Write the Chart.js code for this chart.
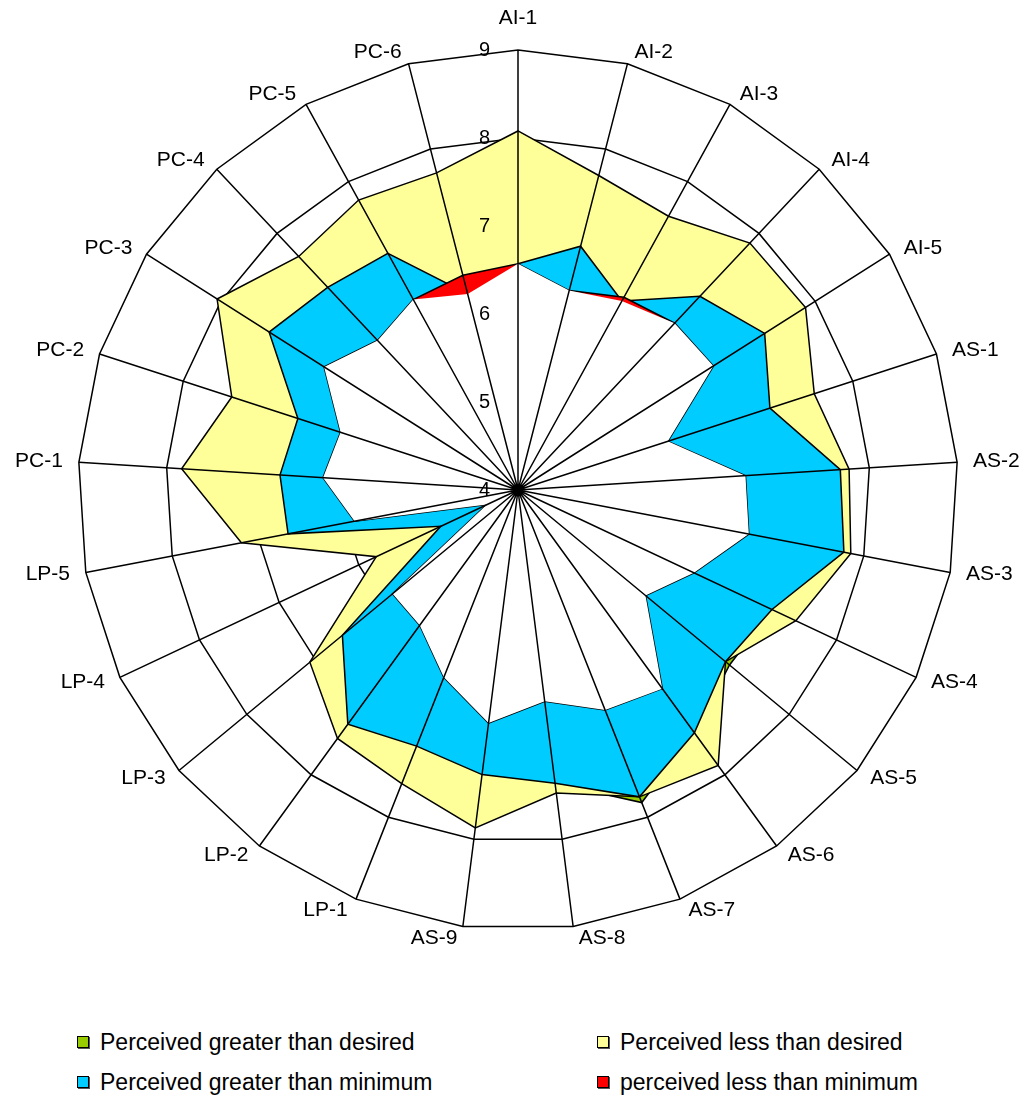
<!DOCTYPE html>
<html>
<head>
<meta charset="utf-8">
<script src="https://cdn.jsdelivr.net/npm/chart.js@4.4.0/dist/chart.umd.min.js"></script>
<style>
    body { margin: 0; background: #fff; font-family: "Liberation Sans", Arial, sans-serif; }
    #cadre { position: relative; width: 1023px; height: 1098px; }
    #myChart { position: absolute; left: 0; top: 0; }
    .leg { position: absolute; height: 26px; display: flex; align-items: center; font-size: 23px; color: #000; white-space: nowrap; }
    .leg .carre { width: 10px; height: 10px; border: 1.5px solid #000; box-shadow: 1px 1px 0 #555; margin-right: 11px; }
</style>
</head>
<body>
<div id="cadre">
    <canvas id="myChart" width="1023" height="1000"></canvas>
    <div class="leg" style="left:77px; top:1029px"><span class="carre" style="background:#99CC00"></span>Perceived greater than desired</div>
    <div class="leg" style="left:597px; top:1029px"><span class="carre" style="background:#FFFF99"></span>Perceived less than desired</div>
    <div class="leg" style="left:77px; top:1069px"><span class="carre" style="background:#00CCFF"></span>Perceived greater than minimum</div>
    <div class="leg" style="left:597px; top:1069px"><span class="carre" style="background:#FF0000"></span>perceived less than minimum</div>
</div>
<script>
// --- DONNÉES ---
const categories = ['AI-1', 'AI-2', 'AI-3', 'AI-4', 'AI-5',
    'AS-1', 'AS-2', 'AS-3', 'AS-4', 'AS-5', 'AS-6', 'AS-7', 'AS-8', 'AS-9',
    'LP-1', 'LP-2', 'LP-3', 'LP-4', 'LP-5',
    'PC-1', 'PC-2', 'PC-3', 'PC-4', 'PC-5', 'PC-6'];

const desire = [8.08, 7.69, 7.55, 7.85, 7.87, 7.54, 7.77, 7.85, 7.49, 7.06, 7.87, 7.75, 7.47,
    7.87, 7.59, 7.49, 7.07, 5.78, 7.20, 7.83, 7.42, 8.05, 7.64, 7.76, 7.72];
const percu = [6.57, 6.86, 6.45, 7.02, 7.32, 7.01, 7.67, 7.77, 7.19, 7.12, 7.41, 7.82, 7.36,
    7.26, 7.13, 7.29, 6.59, 4.97, 6.66, 6.71, 6.63, 7.35, 7.16, 7.07, 6.30];
const minimum = [6.57, 6.34, 6.50, 6.60, 6.63, 5.79, 6.59, 6.67, 6.21, 5.88, 6.79, 6.69, 6.42,
    6.67, 6.29, 5.90, 5.85, 4.39, 5.89, 6.22, 6.12, 6.61, 6.33, 6.47, 6.52];

const graduations = [4, 5, 6, 7, 8, 9];

const couleurs = { vert: '#99CC00', jaune: '#FFFF99', cyan: '#00CCFF', rouge: '#FF0000' };

// couches superposées : cyan jusqu'au plus petit de perçu/désiré, blanc jusqu'au plus petit de perçu/minimum
const coucheCyan = percu.map((v, i) => Math.min(v, desire[i]));
const coucheBlanche = percu.map((v, i) => Math.min(v, minimum[i]));

// --- RAYONS ET TEXTES PAR-DESSUS LES SURFACES ---
const surcouche = {
    id: 'surcouche',
    afterDatasetsDraw(chart) {
        const r = chart.scales.r, c = chart.ctx;
        c.save();
        c.strokeStyle = '#000';
        c.lineWidth = 1.5;
        c.beginPath();
        categories.forEach((cat, i) => {
            const p = r.getPointPositionForValue(i, r.max);
            c.moveTo(r.xCenter, r.yCenter);
            c.lineTo(p.x, p.y);
        });
        c.stroke();
        c.restore();
    },
    afterDraw(chart) {
        const r = chart.scales.r, c = chart.ctx;
        c.save();
        c.fillStyle = '#000';
        c.textBaseline = 'middle';

        // graduations à gauche de l'axe du haut
        c.font = '20px "Liberation Sans", Arial, sans-serif';
        c.textAlign = 'right';
        graduations.forEach(v => {
            c.fillText(String(v), r.xCenter - 28, r.yCenter - r.getDistanceFromCenterForValue(v));
        });

        // libellés des catégories
        c.font = '21px "Liberation Sans", Arial, sans-serif';
        c.textAlign = 'center';
        categories.forEach((cat, i) => {
            const p = r.getPointPositionForValue(i, r.max);
            const s = (p.x - r.xCenter) / r.drawingArea;
            const co = (r.yCenter - p.y) / r.drawingArea;
            const w = c.measureText(cat).width;
            let x = p.x, y = p.y;
            if (Math.abs(s) < 0.01) {
                y = p.y - co * 32;
            } else {
                x = p.x + Math.sign(s) * (w / 2 + 4 + 12 * Math.abs(s));
                y = p.y - co * 12;
            }
            c.fillText(cat, x, y);
        });
        c.restore();
    }
};

// --- CONFIGURATION ---
const couche = (donnees, fond, bord, ordre) => ({
    data: donnees,
    backgroundColor: fond,
    borderColor: bord,
    borderWidth: bord ? 1.5 : 0,
    fill: 'start',
    pointRadius: 0,
    pointHoverRadius: 0,
    order: ordre
});

// trait noir du minimum seulement là où il passe nettement au-dessus du perçu
const ecartMin = i => minimum[i] - percu[i] > 0.1;

const config = {
    type: 'radar',
    data: {
        labels: categories,
        datasets: [
            couche(percu, couleurs.vert, '#000', 5),
            couche(desire, couleurs.jaune, '#000', 4),
            couche(coucheCyan, couleurs.cyan, '#000', 3),
            Object.assign(couche(minimum, couleurs.rouge, '#000', 2), {
                segment: {
                    borderColor: ctx => (ecartMin(ctx.p0DataIndex) || ecartMin(ctx.p1DataIndex)) ? '#000' : 'rgba(0,0,0,0)'
                }
            }),
            couche(coucheBlanche, '#FFFFFF', null, 1)
        ]
    },
    options: {
        responsive: false,
        animation: false,
        layout: { padding: { left: 78, right: 65, top: 50, bottom: 70 } },
        plugins: { legend: { display: false }, tooltip: { enabled: false } },
        elements: { line: { tension: 0 } },
        scales: {
            r: {
                min: 4,
                max: 9,
                ticks: { display: false, stepSize: 1 },
                grid: { color: '#000', lineWidth: 1.5, circular: false },
                angleLines: { display: false },
                pointLabels: { display: false }
            }
        }
    },
    plugins: [surcouche]
};

const myChart = new Chart(document.getElementById('myChart').getContext('2d'), config);
</script>
</body>
</html>
